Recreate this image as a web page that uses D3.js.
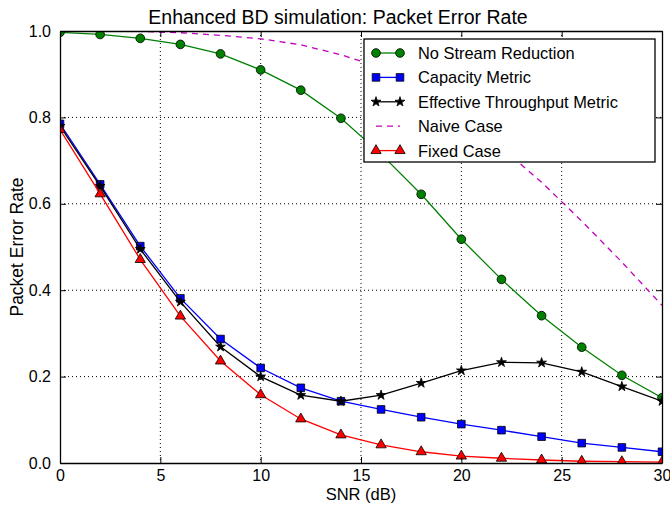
<!DOCTYPE html>
<html>
<head>
<meta charset="utf-8">
<script src="https://cdn.jsdelivr.net/npm/d3@7"></script>
<style>
  body { margin: 0; background: #fff; }
  text { font-family: "Liberation Sans", Arial, Helvetica, sans-serif; fill: #000; }
</style>
</head>
<body>
<div class="chart"></div>
<script>
const snr = [0, 2, 4, 6, 8, 10, 12, 14, 16, 18, 20, 22, 24, 26, 28, 30];
const noStreamReduction = [0.997, 0.992, 0.983, 0.969, 0.947, 0.910, 0.863, 0.798, 0.715, 0.622, 0.518, 0.425, 0.341, 0.268, 0.203, 0.151];
const capacityMetric = [0.785, 0.645, 0.502, 0.381, 0.287, 0.220, 0.174, 0.143, 0.124, 0.106, 0.090, 0.076, 0.061, 0.046, 0.036, 0.026];
const throughputMetric = [0.780, 0.641, 0.495, 0.373, 0.269, 0.200, 0.157, 0.143, 0.157, 0.185, 0.214, 0.233, 0.232, 0.211, 0.177, 0.143];
const naiveCase = [1.0, 1.0, 0.999, 0.996, 0.990, 0.982, 0.968, 0.945, 0.915, 0.865, 0.800, 0.730, 0.650, 0.560, 0.465, 0.365];
const fixedCase = [0.772, 0.623, 0.471, 0.340, 0.236, 0.158, 0.102, 0.065, 0.042, 0.026, 0.016, 0.011, 0.007, 0.004, 0.003, 0.002];
const xTicks = [0, 5, 10, 15, 20, 25, 30];
const yTicks = [0.0, 0.2, 0.4, 0.6, 0.8, 1.0];

const series = [
  { name: "No Stream Reduction", values: noStreamReduction, color: "#008000", marker: d3.symbolCircle, size: 60 },
  { name: "Capacity Metric", values: capacityMetric, color: "#0000ff", marker: d3.symbolSquare, size: 58 },
  { name: "Effective Throughput Metric", values: throughputMetric, color: "#000000", marker: d3.symbolStar, size: 30 },
  { name: "Naive Case", values: naiveCase, color: "#bf00bf", marker: null, dash: "6,5" },
  { name: "Fixed Case", values: fixedCase, color: "#ff0000", marker: d3.symbolTriangle, size: 46 }
];

const W = 670, H = 506;
const margin = { top: 31, right: 8, bottom: 43, left: 60 };
const width = W - margin.left - margin.right,
  height = H - margin.top - margin.bottom;

const svg = d3.select(".chart").append("svg")
  .attr("width", W)
  .attr("height", H);

const g = svg.append("g")
  .attr("transform", "translate(" + margin.left + "," + margin.top + ")");

const x = d3.scaleLinear().domain([0, 30]).range([0, width]);
const y = d3.scaleLinear().domain([0, 1]).range([height, 0]);

svg.append("defs").append("clipPath").attr("id", "plotclip")
  .append("rect").attr("width", width).attr("height", height);

// dotted grid
g.append("g").selectAll("line").data(xTicks.slice(1, -1)).enter().append("line")
  .attr("x1", d => x(d)).attr("x2", d => x(d))
  .attr("y1", 0).attr("y2", height)
  .attr("stroke", "#000").attr("stroke-width", 1).attr("stroke-dasharray", "1,3");
g.append("g").selectAll("line").data(yTicks.slice(1, -1)).enter().append("line")
  .attr("x1", 0).attr("x2", width)
  .attr("y1", d => y(d)).attr("y2", d => y(d))
  .attr("stroke", "#000").attr("stroke-width", 1).attr("stroke-dasharray", "1,3");

// curves
const plot = g.append("g").attr("clip-path", "url(#plotclip)");
const line = d3.line().x((d, i) => x(snr[i])).y(d => y(d));

series.forEach(s => {
  plot.append("path")
    .datum(s.values)
    .attr("d", line)
    .attr("fill", "none")
    .attr("stroke", s.color)
    .attr("stroke-width", 1.3)
    .attr("stroke-dasharray", s.dash || null);
  if (s.marker) {
    plot.append("g").selectAll("path").data(s.values).enter().append("path")
      .attr("d", d3.symbol().type(s.marker).size(s.size))
      .attr("transform", (d, i) => "translate(" + x(snr[i]) + "," + y(d) + ")")
      .attr("fill", s.color)
      .attr("stroke", "#000")
      .attr("stroke-width", 0.8);
  }
});

// axes with inward ticks on all sides
const fmt = d3.format(".1f");
const axBottom = g.append("g").attr("transform", "translate(0," + height + ")")
  .call(d3.axisBottom(x).tickValues(xTicks).tickSizeInner(-6).tickSizeOuter(0).tickPadding(7));
const axLeft = g.append("g")
  .call(d3.axisLeft(y).tickValues(yTicks).tickFormat(fmt).tickSizeInner(-6).tickSizeOuter(0).tickPadding(9));
const axTop = g.append("g")
  .call(d3.axisTop(x).tickValues(xTicks).tickSizeInner(-6).tickSizeOuter(0).tickFormat(""));
const axRight = g.append("g").attr("transform", "translate(" + width + ",0)")
  .call(d3.axisRight(y).tickValues(yTicks).tickSizeInner(-6).tickSizeOuter(0).tickFormat(""));

[axBottom, axLeft, axTop, axRight].forEach(a => {
  a.selectAll(".domain").attr("stroke", "#000").attr("stroke-width", 1.3);
  a.selectAll(".tick line").attr("stroke", "#000").attr("stroke-width", 1);
  a.selectAll("text").style("font-size", "16px").attr("fill", "#000")
    .style("font-family", "'Liberation Sans', Arial, sans-serif");
});

// labels
svg.append("text")
  .attr("x", margin.left + width / 2 - 23).attr("y", 24)
  .attr("text-anchor", "middle").style("font-size", "19.5px")
  .text("Enhanced BD simulation: Packet Error Rate");
svg.append("text")
  .attr("x", margin.left + width / 2).attr("y", 500)
  .attr("text-anchor", "middle").style("font-size", "16.5px")
  .text("SNR (dB)");
svg.append("text")
  .attr("transform", "translate(23," + (margin.top + height / 2) + ") rotate(-90)")
  .attr("text-anchor", "middle").style("font-size", "17.5px")
  .text("Packet Error Rate");

// legend
const lg = svg.append("g").attr("transform", "translate(364,39)");
lg.append("rect")
  .attr("width", 291).attr("height", 123)
  .attr("fill", "#fff").attr("stroke", "#000").attr("stroke-width", 1.3);

const item = lg.selectAll(".legend").data(series).enter().append("g")
  .attr("class", "legend")
  .attr("transform", (d, i) => "translate(0," + (14 + i * 24.4) + ")");

item.append("line")
  .attr("x1", 12).attr("x2", 36).attr("y1", 0).attr("y2", 0)
  .attr("stroke", d => d.color).attr("stroke-width", 1.3)
  .attr("stroke-dasharray", d => d.dash || null);

item.each(function (d) {
  if (!d.marker) return;
  d3.select(this).selectAll("path").data([12, 36]).enter().append("path")
    .attr("d", d3.symbol().type(d.marker).size(d.size))
    .attr("transform", px => "translate(" + px + ",0)")
    .attr("fill", d.color).attr("stroke", "#000").attr("stroke-width", 0.8);
});

item.append("text")
  .attr("x", 54).attr("y", 6)
  .style("font-size", "16.4px")
  .text(d => d.name);
</script>
</body>
</html>
